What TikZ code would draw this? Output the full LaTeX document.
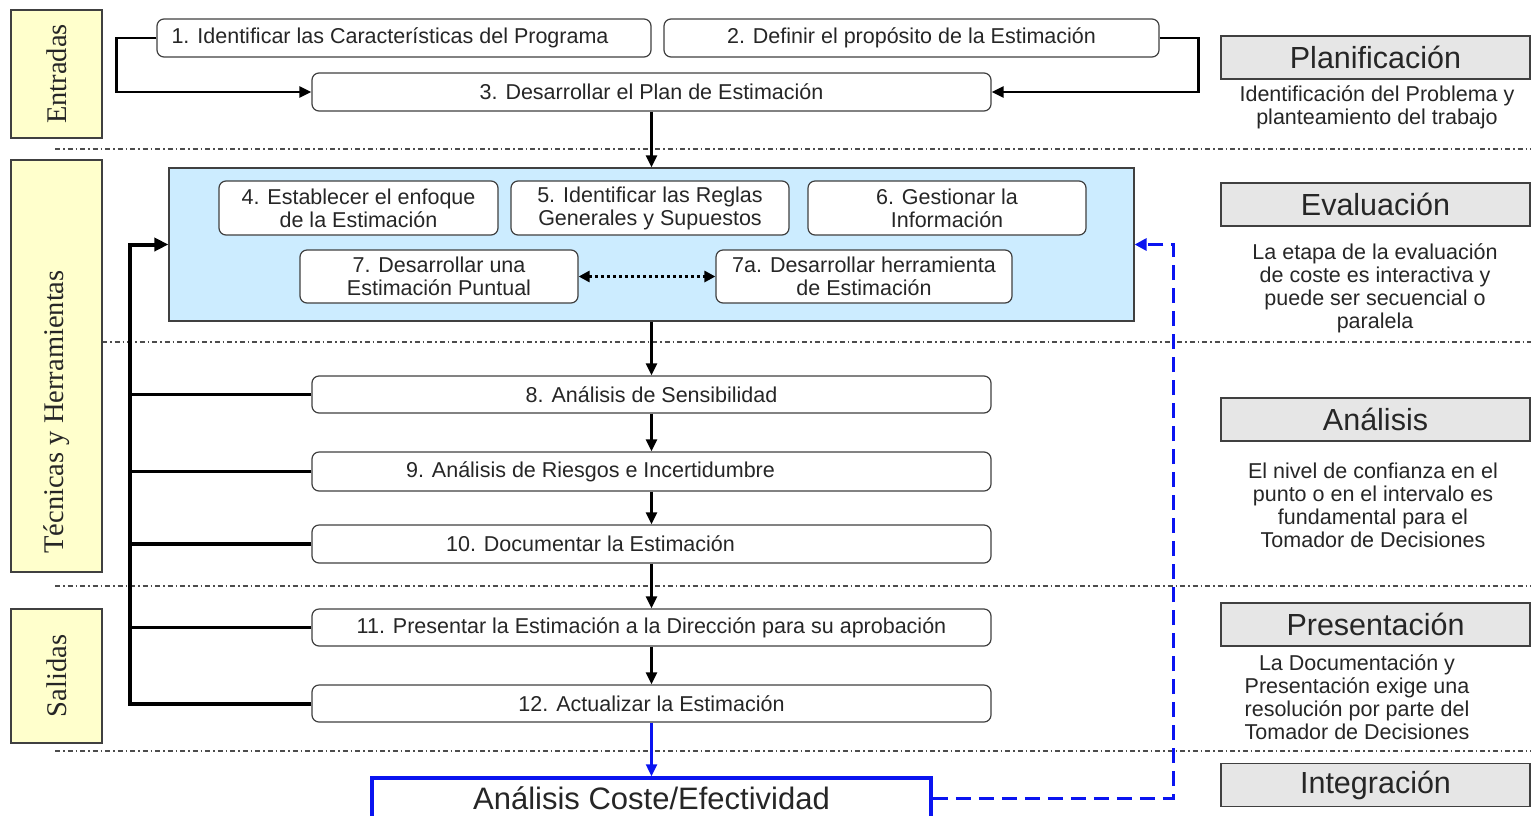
\documentclass[tikz,border=0pt]{standalone}
\usepackage{fontspec}
\setmainfont{Liberation Sans}
\newfontfamily\sideserif{Liberation Serif}
\usepackage{xcolor}
\usetikzlibrary{arrows.meta}
\definecolor{sideyellow}{HTML}{FFFFCC}
\definecolor{evalblue}{HTML}{CCECFF}
\definecolor{phasegray}{HTML}{E6E6E6}
\definecolor{linkblue}{HTML}{0A14F0}
\tikzset{
  stepbox/.style={draw=black!75, line width=1.2pt, rounded corners=7pt, fill=white,
    minimum height=38pt, inner sep=0pt, align=center, text=black!85,
    font=\fontsize{21.5}{23}\selectfont},
  sidebox/.style={draw=black!75, line width=1.2pt, fill=sideyellow, rotate=90,
    minimum height=91pt, inner sep=0pt, text=black!85,
    font=\sideserif\fontsize{28.5}{32}\selectfont},
  phasebox/.style={draw=black!75, line width=1.5pt, fill=phasegray, minimum width=309pt,
    minimum height=43pt, inner sep=0pt, text=black!85, font=\fontsize{30.5}{34}\selectfont},
  phasenote/.style={align=center, inner sep=0pt, text=black!85,
    font=\fontsize{21.5}{23}\selectfont},
  phaseline/.style={black!70, line width=1.1pt, dash pattern=on 5pt off 3pt on 1.5pt off 3pt},
  flow/.style={line width=2.6pt, -{Triangle[length=12pt,width=11pt]}},
  railtick/.style={line width=3.4pt},
  rail/.style={line width=4pt, -{Triangle[length=14pt,width=13pt]}},
  linkflow/.style={linkblue, line width=2.4pt, -{Triangle[length=12pt,width=11pt]}},
  feedback/.style={linkblue, line width=3pt, dash pattern=on 15pt off 8pt,
    -{Triangle[length=12pt,width=12pt]}},
}
\begin{document}
\begin{tikzpicture}[x=1pt,y=-1pt]
\useasboundingbox (0,0) rectangle (1531,815);
% separadores de fase
\draw[phaseline] (55,149) -- (1531,149);
\draw[phaseline] (102,342) -- (1531,342);
\draw[phaseline] (55,586) -- (1531,586);
\draw[phaseline] (55,751) -- (1531,751);
% columna izquierda
\node[sidebox, minimum width=128pt] (entradas) at (56.5,74) {Entradas};
\node[sidebox, minimum width=412pt] (tecnicas) at (56.5,366) {T\'ecnicas y Herramientas\hspace*{92pt}};
\node[sidebox, minimum width=134pt] (salidas) at (56.5,676) {Salidas};
% planificacion
\node[stepbox, minimum width=494pt] (b1) at (404,38) {1. Identificar las Caracter\'isticas del Programa\hspace*{28pt}};
\node[stepbox, minimum width=495pt] (b2) at (911.5,38) {2. Definir el prop\'osito de la Estimaci\'on};
\node[stepbox, minimum width=679pt] (b3) at (651.5,92) {3. Desarrollar el Plan de Estimaci\'on};
% evaluacion
\node[draw=black!75, line width=1.2pt, fill=evalblue, minimum width=965pt, minimum height=153pt] (eval) at (651.5,244.5) {};
\node[stepbox, minimum width=279pt, minimum height=54pt] (b4) at (358.5,208) {4. Establecer el enfoque\\de la Estimaci\'on};
\node[stepbox, minimum width=278pt, minimum height=54pt] (b5) at (650,208) {5. Identificar las Reglas\\Generales y Supuestos};
\node[stepbox, minimum width=278pt, minimum height=54pt] (b6) at (947,208) {6. Gestionar la\\Informaci\'on};
\node[stepbox, minimum width=278pt, minimum height=53pt] (b7) at (439,276.5) {7. Desarrollar una\\Estimaci\'on Puntual};
\node[stepbox, minimum width=296pt, minimum height=53pt] (b7a) at (864,276.5) {7a. Desarrollar herramienta\\de Estimaci\'on};
% analisis y presentacion
\node[stepbox, minimum width=679pt, minimum height=37pt] (b8) at (651.5,394.5) {8. An\'alisis de Sensibilidad};
\node[stepbox, minimum width=679pt, minimum height=39pt] (b9) at (651.5,471.5) {9. An\'alisis de Riesgos e Incertidumbre\hspace*{122pt}};
\node[stepbox, minimum width=679pt] (b10) at (651.5,544) {10. Documentar la Estimaci\'on\hspace*{122pt}};
\node[stepbox, minimum width=679pt, minimum height=37pt] (b11) at (651.5,627.5) {11. Presentar la Estimaci\'on a la Direcci\'on para su aprobaci\'on};
\node[stepbox, minimum width=679pt, minimum height=37pt] (b12) at (651.5,703.5) {12. Actualizar la Estimaci\'on};
\node[draw=linkblue, line width=3.5pt, fill=white, minimum width=559pt, minimum height=40pt,
  inner sep=0pt, text=black!85, font=\fontsize{31}{34}\selectfont] (coste) at (651.5,798) {An\'alisis Coste/Efectividad};
% fases a la derecha
\node[phasebox] (plan) at (1375.5,57.5) {Planificaci\'on};
\node[phasenote] (plannote) at (1377,107) {Identificaci\'on del Problema y\\planteamiento del trabajo};
\node[phasebox] (evalph) at (1375.5,204.5) {Evaluaci\'on};
\node[phasenote] (evalnote) at (1375,288) {La etapa de la evaluaci\'on\\de coste es interactiva y\\puede ser secuencial o\\paralela};
\node[phasebox] (analph) at (1375.5,419.5) {An\'alisis};
\node[phasenote] (analnote) at (1373,505) {El nivel de confianza en el\\punto o en el intervalo es\\fundamental para el\\Tomador de Decisiones};
\node[phasebox] (presph) at (1375.5,624.5) {Presentaci\'on};
\node[phasenote] (presnote) at (1357,697) {La Documentaci\'on y\\Presentaci\'on exige una\\resoluci\'on por parte del\\Tomador de Decisiones};
\node[phasebox] (integ) at (1375.5,785) {Integraci\'on};
% conectores
\draw[flow] (b1.west) -- ++(-40,0) |- (b3.west);
\draw[flow] (b2.east) -- ++(39,0) |- (b3.east);
\draw[flow] (b3.south) -- (eval.north);
\draw[flow] (eval.south) -- (b8.north);
\draw[flow] (b8) -- (b9);
\draw[flow] (b9) -- (b10);
\draw[flow] (b10) -- (b11);
\draw[flow] (b11) -- (b12);
\draw[line width=3pt, dash pattern=on 3pt off 3pt,
  {Triangle[length=11pt,width=11pt]}-{Triangle[length=11pt,width=11pt]}] (b7) -- (b7a);
\coordinate (rail) at (130,0);
\foreach \b in {b8,b9,b10,b11}
  \draw[railtick] (\b.west) -- (\b.west -| rail);
\draw[rail] (b12.west) -- (b12.west -| rail) |- (eval.west);
\draw[linkflow] (b12.south) -- (coste.north);
\draw[feedback] (coste.east) -- ++(241,0) |- (eval.east);
\end{tikzpicture}
\end{document}
